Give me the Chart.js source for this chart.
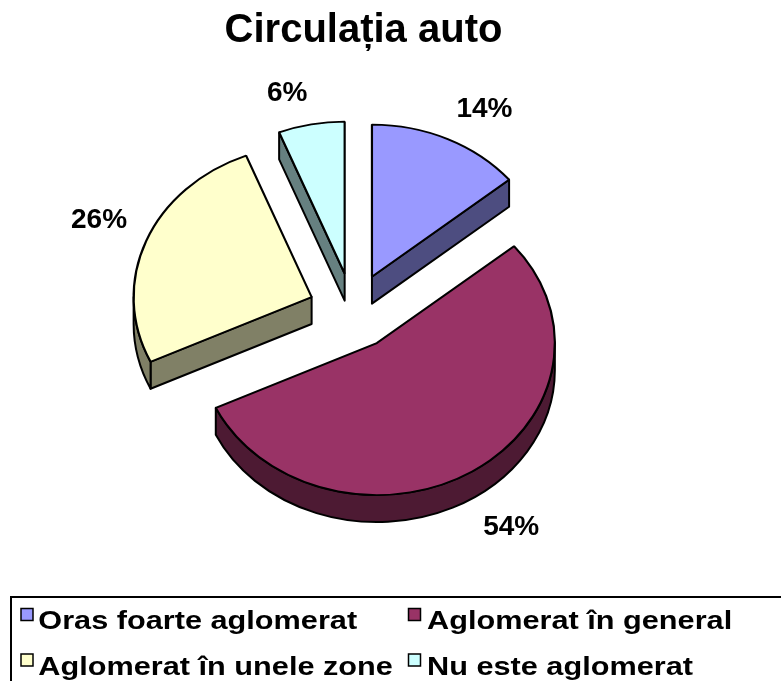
<!DOCTYPE html>
<html>
<head>
<meta charset="utf-8">
<script src="https://cdn.jsdelivr.net/npm/chart.js@4.4.1/dist/chart.umd.min.js"></script>
<style>
  html, body { margin: 0; padding: 0; background: #ffffff; }
  canvas { display: block; }
</style>
</head>
<body>
<canvas id="c" width="781" height="681"></canvas>
<script>
// ---- data ----
const chartTitle = 'Circulația auto';
const categories = ['Oras foarte aglomerat', 'Aglomerat în general', 'Aglomerat în unele zone', 'Nu este aglomerat'];
const values = [14, 54, 26, 6];

// ---- styles ----
const topColors = ['#9999FF', '#993366', '#FFFFCC', '#CCFFFF'];
const FONT = '"Liberation Sans", Arial, Helvetica, sans-serif';
const TILT = 0.854;      // vertical squash of the pie (3D view)
const DEPTH = 27;        // thickness of the pie in px
const EXPLODE = 44.5;    // explosion distance of each slice
const LABEL_GAP = 20.5;  // distance of labels beyond exploded rim

function darken(hex, f) {
  const n = parseInt(hex.slice(1), 16);
  const r = Math.round(((n >> 16) & 255) * f), g = Math.round(((n >> 8) & 255) * f), b = Math.round((n & 255) * f);
  return 'rgb(' + r + ',' + g + ',' + b + ')';
}

function frame(ctx, arc, ex, ey, d) {
  ctx.translate(0, d);
  ctx.translate(arc.x, arc.y);
  ctx.scale(1, TILT);
  ctx.translate(-arc.x, -arc.y);
  ctx.translate(ex, ey);
}

const pie3d = {
  id: 'pie3d',
  beforeDatasetsDraw(chart) {
    const ctx = chart.ctx;
    const meta = chart.getDatasetMeta(0);
    meta.data.forEach((arc, i) => {
      const s = arc.startAngle, e = arc.endAngle, r = arc.outerRadius, x = arc.x, y = arc.y;
      const mid = (s + e) / 2;
      const ex = Math.cos(mid) * EXPLODE, ey = Math.sin(mid) * EXPLODE;
      const side = darken(topColors[i], 0.5);
      ctx.save();
      ctx.lineWidth = 2;
      ctx.strokeStyle = '#000';
      ctx.lineJoin = 'round';
      ctx.fillStyle = side;
      // radial faces
      const radial = (a) => {
        ctx.beginPath();
        ctx.save(); frame(ctx, arc, ex, ey, 0);
        ctx.moveTo(x, y); ctx.lineTo(x + r * Math.cos(a), y + r * Math.sin(a));
        ctx.restore();
        ctx.save(); frame(ctx, arc, ex, ey, DEPTH);
        ctx.lineTo(x + r * Math.cos(a), y + r * Math.sin(a)); ctx.lineTo(x, y);
        ctx.restore();
        ctx.closePath();
        ctx.fill(); ctx.stroke();
      };
      if (Math.cos(s) < -1e-6) radial(s);
      if (Math.cos(e) > 1e-6) radial(e);
      // curved outer face (front part only)
      const a0 = Math.max(s, 0), a1 = Math.min(e, Math.PI);
      if (a1 > a0) {
        ctx.beginPath();
        ctx.save(); frame(ctx, arc, ex, ey, 0);
        ctx.arc(x, y, r, a0, a1);
        ctx.restore();
        ctx.save(); frame(ctx, arc, ex, ey, DEPTH);
        ctx.arc(x, y, r, a1, a0, true);
        ctx.restore();
        ctx.closePath();
        ctx.fill(); ctx.stroke();
      }
      ctx.restore();
      // top face drawn by the library element
      ctx.save();
      frame(ctx, arc, ex, ey, 0);
      arc.draw(ctx);
      ctx.restore();
    });
    return false;
  }
};

const overlay = {
  id: 'overlay',
  afterDraw(chart) {
    const ctx = chart.ctx;
    const meta = chart.getDatasetMeta(0);
    const total = values.reduce((a, b) => a + b, 0);
    ctx.save();
    // percentage labels
    ctx.fillStyle = '#000';
    ctx.font = 'bold 28px ' + FONT;
    ctx.textAlign = 'center';
    ctx.textBaseline = 'middle';
    meta.data.forEach((arc, i) => {
      const mid = (arc.startAngle + arc.endAngle) / 2;
      const R = arc.outerRadius + EXPLODE + LABEL_GAP;
      const txt = Math.round(values[i] / total * 100) + '%';
      const w = ctx.measureText(txt).width;
      const c = Math.cos(mid), sn = Math.sin(mid);
      const lx = arc.x + R * c + Math.sign(c) * w / 2;
      const ly = arc.y + TILT * R * sn + Math.sign(sn) * 14 + (sn > 0 ? DEPTH : 0);
      ctx.fillText(txt, lx, ly);
    });
    // title
    ctx.font = 'bold 40px ' + FONT;
    ctx.textBaseline = 'alphabetic';
    ctx.fillText(chartTitle, 363.5, 42);
    // legend frame
    ctx.lineWidth = 2;
    ctx.strokeStyle = '#000';
    ctx.strokeRect(11, 597, 800, 120);
    // legend entries
    ctx.font = 'bold 26px ' + FONT;
    ctx.textAlign = 'left';
    const colX = [21, 408.5], textX = [38.3, 427];
    const rowBox = [608.5, 654], rowBase = [628.5, 674.5];
    categories.forEach((lab, i) => {
      const col = i % 2, row = Math.floor(i / 2);
      ctx.fillStyle = topColors[i];
      ctx.fillRect(colX[col], rowBox[row], 12, 12);
      ctx.lineWidth = 1.5;
      ctx.strokeRect(colX[col], rowBox[row], 12, 12);
      ctx.fillStyle = '#000';
      ctx.save();
      ctx.translate(textX[col], rowBase[row]);
      ctx.scale(1.18, 1);
      ctx.fillText(lab, 0, 0);
      ctx.restore();
    });
    ctx.restore();
  }
};

new Chart(document.getElementById('c').getContext('2d'), {
  type: 'pie',
  data: {
    labels: categories,
    datasets: [{
      data: values,
      backgroundColor: topColors,
      borderColor: '#000000',
      borderWidth: 2.2,
      radius: 178
    }]
  },
  options: {
    responsive: false,
    animation: false,
    events: [],
    layout: { padding: { left: 0, right: 75, top: 80, bottom: 139 } },
    plugins: {
      legend: { display: false },
      title: { display: false },
      tooltip: { enabled: false }
    }
  },
  plugins: [pie3d, overlay]
});
</script>
</body>
</html>
